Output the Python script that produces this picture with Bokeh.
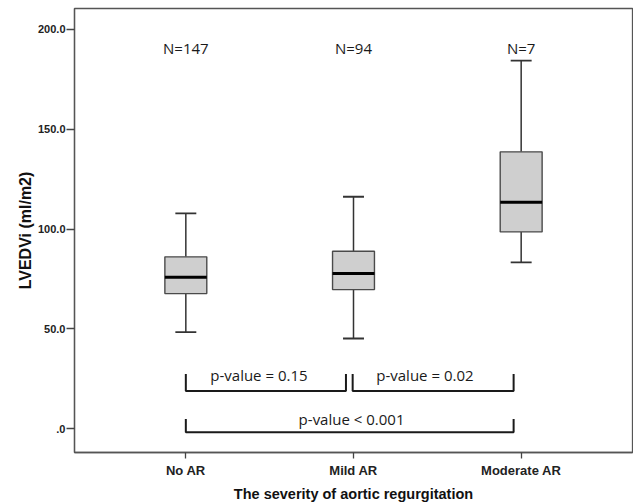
from bokeh.plotting import figure
from bokeh.models import Range1d, FixedTicker, ColumnDataSource
from bokeh.core.properties import value
from bokeh.embed import file_html
from bokeh.resources import INLINE

# ---- data ----
categories = ["No AR", "Mild AR", "Moderate AR"]
cat_pos = [1, 2, 3]
counts = [147, 94, 7]
q1 = [67.7, 69.7, 98.6]
median = [75.9, 77.7, 113.4]
q3 = [86.1, 88.9, 138.7]
whisker_low = [48.4, 45.2, 83.3]
whisker_high = [107.9, 116.2, 184.4]
y_ticks = [0, 50, 100, 150, 200]
y_tick_labels = [".0", "50.0", "100.0", "150.0", "200.0"]
p_labels = ["p-value = 0.15", "p-value = 0.02", "p-value <  0.001"]
# brackets: (start, end) in category units
bracket_start = [1.0, 1.995, 1.0]
bracket_end = [1.955, 2.955, 2.955]

# ---- figure ----
p = figure(width=633, height=504, output_backend="svg", toolbar_location=None,
           x_range=Range1d(0.336, 3.664), y_range=Range1d(-11.9, 210.5),
           min_border_left=74, min_border_right=1, min_border_top=8,
           min_border_bottom=52)
p.xgrid.visible = False
p.ygrid.visible = False
p.outline_line_color = "#555555"
p.outline_line_width = 1.3
p.background_fill_color = "white"

# axes
p.xaxis.ticker = FixedTicker(ticks=cat_pos)
p.xaxis.major_label_overrides = {c: l for c, l in zip(cat_pos, categories)}
p.yaxis.ticker = FixedTicker(ticks=y_ticks)
p.yaxis.major_label_overrides = {t: l for t, l in zip(y_ticks, y_tick_labels)}
for ax in (p.xaxis, p.yaxis):
    ax.axis_line_color = "#555555"
    ax.axis_line_width = 1.3
    ax.major_tick_line_color = "#444444"
    ax.major_tick_line_width = 1.3
    ax.minor_tick_line_color = None
    ax.major_tick_in = 0
    ax.major_label_text_font = "Liberation Sans"
    ax.major_label_text_font_style = "bold"
    ax.major_label_text_color = "#222222"
    ax.axis_label_text_font = "Liberation Sans"
    ax.axis_label_text_font_style = "bold"
    ax.axis_label_text_color = "#111111"

p.yaxis.major_tick_out = 8
p.yaxis.major_label_standoff = 1
p.yaxis.major_label_text_font_size = "11px"
p.yaxis.axis_label = "LVEDVi (ml/m2)"
p.yaxis.axis_label_text_font_size = "16px"
p.yaxis.axis_label_standoff = 1

p.xaxis.major_tick_out = 6
p.xaxis.major_label_standoff = 4
p.xaxis.major_label_text_font_size = "13px"
p.xaxis.axis_label = "The severity of aortic regurgitation"
p.xaxis.axis_label_text_font_size = "14.5px"
p.xaxis.axis_label_standoff = 5

# ---- boxes ----
src = ColumnDataSource(dict(x=cat_pos, q1=q1, med=median, q3=q3,
                            lo=whisker_low, hi=whisker_high))
cap = 0.125 / 2
box_w = 0.25
p.segment(x0="x", y0="q3", x1="x", y1="hi", source=src, line_color="#333333", line_width=1.5)
p.segment(x0="x", y0="lo", x1="x", y1="q1", source=src, line_color="#333333", line_width=1.5)
p.segment(x0=[c - cap for c in cat_pos], y0=whisker_high, x1=[c + cap for c in cat_pos],
          y1=whisker_high, line_color="#333333", line_width=1.8)
p.segment(x0=[c - cap for c in cat_pos], y0=whisker_low, x1=[c + cap for c in cat_pos],
          y1=whisker_low, line_color="#333333", line_width=1.8)
p.vbar(x="x", width=box_w, bottom="q1", top="q3", source=src,
       fill_color="#cfcfcf", line_color="#4a4a4a", line_width=1.4)
p.segment(x0=[c - box_w / 2 for c in cat_pos], y0=median, x1=[c + box_w / 2 for c in cat_pos],
          y1=median, line_color="#000000", line_width=3)

# N labels
p.text(x=cat_pos, y=[190.6] * 3, text=[f"N={n}" for n in counts],
       text_font=value("Open Sans"), text_font_size="15px", text_align="center",
       text_baseline="alphabetic", text_color="#1a1a1a")

# ---- p-value brackets ----
b_bottom = [18.9, 18.9, -1.8]
b_top = [27.4, 27.4, 4.9]
xs = [[s, s, e, e] for s, e in zip(bracket_start, bracket_end)]
ys = [[t, b, b, t] for t, b in zip(b_top, b_bottom)]
p.multi_line(xs=xs, ys=ys, line_color="#1a1a1a", line_width=2)
p.text(x=[1.436, 2.426, 2.0], y=[26.9, 26.9, 4.8], text=p_labels,
       text_font=value("Open Sans"), text_font_size="15px", text_align="center",
       text_baseline="alphabetic", text_color="#1a1a1a")

open("out.html", "w").write(file_html(p, INLINE))
